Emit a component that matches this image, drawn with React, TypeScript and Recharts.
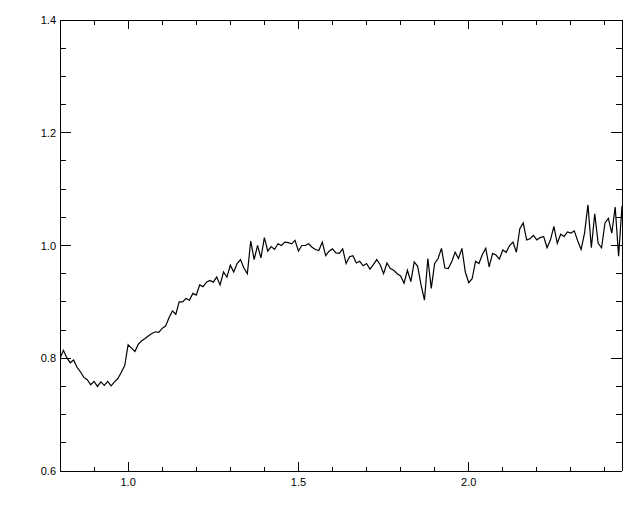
import { LineChart, Line, XAxis, YAxis } from "recharts";

// ── Data ──────────────────────────────────────────────────────────────────────

// spectrum sampled every 0.01 from 0.80 to 2.45
const X_START = 0.8;
const X_STEP = 0.01;
const FLUX = [
  0.800, 0.814, 0.801, 0.792, 0.797, 0.784, 0.776, 0.766, 0.762, 0.753,
  0.759, 0.750, 0.758, 0.752, 0.759, 0.751, 0.758, 0.764, 0.775, 0.787,
  0.824, 0.818, 0.812, 0.825, 0.831, 0.835, 0.840, 0.844, 0.847, 0.846,
  0.853, 0.857, 0.872, 0.884, 0.878, 0.900, 0.900, 0.906, 0.903, 0.915,
  0.912, 0.930, 0.927, 0.935, 0.938, 0.935, 0.944, 0.930, 0.953, 0.944,
  0.965, 0.953, 0.968, 0.975, 0.960, 0.950, 1.008, 0.975, 1.000, 0.978,
  1.014, 0.990, 0.998, 0.993, 1.003, 1.000, 1.006, 1.005, 1.003, 1.009,
  0.990, 1.000, 1.000, 1.003, 0.997, 0.993, 0.991, 1.006, 0.982, 0.990,
  0.994, 0.987, 0.986, 0.994, 0.968, 0.980, 0.982, 0.969, 0.972, 0.964,
  0.968, 0.958, 0.966, 0.975, 0.966, 0.950, 0.969, 0.959, 0.956, 0.950,
  0.946, 0.933, 0.956, 0.936, 0.971, 0.963, 0.930, 0.903, 0.977, 0.924,
  0.968, 0.977, 0.995, 0.960, 0.959, 0.971, 0.988, 0.977, 0.995, 0.953,
  0.934, 0.941, 0.972, 0.968, 0.984, 0.995, 0.962, 0.986, 0.983, 0.976,
  0.992, 0.988, 1.000, 1.006, 0.988, 1.030, 1.040, 1.010, 1.012, 1.018,
  1.010, 1.014, 1.016, 0.996, 1.010, 1.034, 1.004, 1.020, 1.016, 1.024,
  1.022, 1.026, 1.008, 0.993, 1.022, 1.072, 0.996, 1.056, 1.004, 0.996,
  1.040, 1.048, 1.022, 1.068, 0.981, 1.070,
];

const X_DOMAIN: [number, number] = [0.8, 2.45];
const Y_DOMAIN: [number, number] = [0.6, 1.4];

const X_TICKS = [0.9, 1.0, 1.1, 1.2, 1.3, 1.4, 1.5, 1.6, 1.7, 1.8, 1.9, 2.0, 2.1, 2.2, 2.3, 2.4];
const X_LABELS = [1.0, 1.5, 2.0];
const Y_TICKS = [
  0.6, 0.65, 0.7, 0.75, 0.8, 0.85, 0.9, 0.95, 1.0, 1.05, 1.1, 1.15, 1.2, 1.25, 1.3, 1.35, 1.4,
];
const Y_LABELS = [0.6, 0.8, 1.0, 1.2, 1.4];

// ── Style ─────────────────────────────────────────────────────────────────────

const FONT = "'Liberation Sans', Arial, sans-serif";
const INK = "#000";
const X_MAJOR = 9;
const X_MINOR = 4.5;
const Y_MAJOR = 11;
const Y_MINOR = 5.6;

const isIn = (v: number, list: number[]) => list.some((l) => Math.abs(l - v) < 1e-6);

// ── Tick renderers ────────────────────────────────────────────────────────────

function BottomTick({ x, y, payload }: any) {
  const major = isIn(payload.value, X_LABELS);
  return (
    <g>
      <line x1={x} y1={y} x2={x} y2={y - (major ? X_MAJOR : X_MINOR)} stroke={INK} shapeRendering="crispEdges" />
      {major && (
        <text x={x} y={y + 15} textAnchor="middle" fontFamily={FONT} fontSize={11} fill={INK}>
          {payload.value.toFixed(1)}
        </text>
      )}
    </g>
  );
}

function TopTick({ x, y, payload }: any) {
  const major = isIn(payload.value, X_LABELS);
  return <line x1={x} y1={y} x2={x} y2={y + (major ? X_MAJOR : X_MINOR)} stroke={INK} shapeRendering="crispEdges" />;
}

function LeftTick({ x, y, payload }: any) {
  const major = isIn(payload.value, Y_LABELS);
  return (
    <g>
      <line x1={x} y1={y} x2={x + (major ? Y_MAJOR : Y_MINOR)} y2={y} stroke={INK} shapeRendering="crispEdges" />
      {major && (
        <text x={x - 4} y={y + 4} textAnchor="end" fontFamily={FONT} fontSize={11} fill={INK}>
          {payload.value.toFixed(1)}
        </text>
      )}
    </g>
  );
}

function RightTick({ x, y, payload }: any) {
  const major = isIn(payload.value, Y_LABELS);
  return <line x1={x} y1={y} x2={x - (major ? Y_MAJOR : Y_MINOR)} y2={y} stroke={INK} shapeRendering="crispEdges" />;
}

const axisCommon = {
  type: "number" as const,
  interval: 0 as const,
  tickSize: 0,
  tickMargin: 0,
  tickLine: false,
  axisLine: { stroke: INK, shapeRendering: "crispEdges" },
  allowDataOverflow: true,
};

// ── Component ─────────────────────────────────────────────────────────────────

export default function App() {
  const data = FLUX.map((f, i) => ({ x: +(X_START + i * X_STEP).toFixed(2), y: f }));

  return (
    <div style={{ position: "absolute", left: 0, top: 0, width: 640, height: 512, background: "#fff" }}>
      <LineChart width={640} height={512} data={data} margin={{ top: 19, right: 17, bottom: 40, left: 59 }}>
        <XAxis {...axisCommon} xAxisId="bottom" dataKey="x" domain={X_DOMAIN} ticks={X_TICKS} height={1} tick={<BottomTick />} />
        <XAxis {...axisCommon} xAxisId="top" orientation="top" dataKey="x" domain={X_DOMAIN} ticks={X_TICKS} height={1} tick={<TopTick />} />
        <YAxis {...axisCommon} yAxisId="left" domain={Y_DOMAIN} ticks={Y_TICKS} width={1} tick={<LeftTick />} />
        <YAxis {...axisCommon} yAxisId="right" orientation="right" domain={Y_DOMAIN} ticks={Y_TICKS} width={1} tick={<RightTick />} />
        <Line
          xAxisId="bottom"
          yAxisId="left"
          dataKey="y"
          type="linear"
          stroke={INK}
          strokeWidth={1.2}
          dot={false}
          isAnimationActive={false}
        />
      </LineChart>
    </div>
  );
}
